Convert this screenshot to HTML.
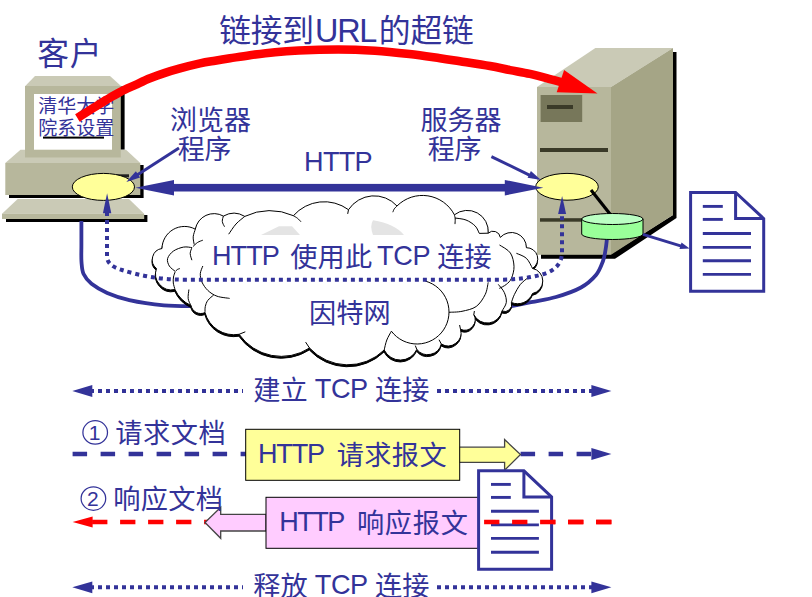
<!DOCTYPE html>
<html lang="zh"><head><meta charset="utf-8"><title>HTTP over TCP</title>
<style>
html,body{margin:0;padding:0;background:#fff;}
body{width:812px;height:597px;overflow:hidden;font-family:"Liberation Sans","Noto Sans CJK SC",sans-serif;}
svg{display:block;}
svg text{font-family:"Liberation Sans","Noto Sans CJK SC",sans-serif;}
</style></head><body>
<svg width="812" height="597" viewBox="0 0 812 597">
<rect x="120" y="86.5" width="4.6" height="63.2" fill="#000"/>
<polygon points="35,76 110,76 121.3,86.3 25,86.3" fill="#cacab6"/>
<polygon points="20.5,149.7 126,149.7 140.3,163 5.3,163" fill="#cacab6"/>
<rect x="25" y="86" width="95.8" height="71.5" fill="#b7b79c"/>
<rect x="34" y="94" width="78" height="55.7" fill="#fff"/>
<rect x="9" y="165" width="134.6" height="33" fill="#000"/>
<rect x="5.3" y="163" width="135" height="32" fill="#b7b79c"/>
<rect x="116" y="174.3" width="13" height="3" fill="#222"/>
<polygon points="6,222 147.4,222 147.4,215 144,215 144,219 6,219" fill="#000"/>
<polygon points="17.7,199 129,199 144.2,213.7 2,213.7" fill="#cacab6"/>
<rect x="2" y="213.7" width="142.2" height="5.3" fill="#b7b79c"/>
<text x="38.30" y="112.80" font-size="19" fill="#333399">清华大学</text>
<text x="38.30" y="135.30" font-size="19" fill="#333399">院系设置</text>
<rect x="43" y="136.6" width="61" height="2" fill="#000"/>
<polygon points="673,52 676.5,52 676.5,218 615,258.8 541,258.8 541,254 611,254 673,215" fill="#000"/>
<polygon points="595.4,48 673,48 611,87 537,87" fill="#cacab6"/>
<rect x="537" y="87" width="74" height="167.8" fill="#b7b79c"/>
<polygon points="611,87 673,48 673,215 611,254.8" fill="#a5a586"/>
<rect x="540.6" y="95" width="41.6" height="27" fill="#77775a"/>
<rect x="547" y="105" width="26" height="4" fill="#3a3a28"/>
<rect x="540" y="148" width="68" height="4" fill="#3a3a28"/>
<rect x="540" y="218.2" width="50" height="3.5" fill="#3a3a28"/>
<path d="M81.4,221.0 C81.4,225.0 81.4,238.2 81.4,245.0 C81.4,251.8 81.1,257.2 81.5,262.0 C81.9,266.8 81.9,270.4 83.6,274.0 C85.3,277.6 87.6,280.7 91.5,283.8 C95.4,286.9 100.9,290.2 107.2,292.9 C113.5,295.6 119.9,298.0 129.3,300.1 C138.8,302.2 153.0,304.3 163.9,305.3 C174.8,306.3 189.8,306.1 195.0,306.2" fill="none" stroke="#333399" stroke-width="3.8"/>
<path d="M607.0,238.0 C606.8,240.0 606.2,246.2 605.5,250.0 C604.8,253.8 604.6,256.8 603.0,261.0 C601.4,265.2 599.7,270.6 596.0,275.0 C592.3,279.4 587.7,283.8 581.0,287.5 C574.3,291.2 564.3,294.6 556.0,297.0 C547.7,299.4 540.3,300.3 531.0,302.2 C521.7,304.1 505.2,307.4 500.0,308.5" fill="none" stroke="#333399" stroke-width="3.8"/>
<path d="M156.5,268.5 A11.3,11.3 0 0 1 162,248.5 A22.5,22.5 0 0 1 195.3,229.2 A19,19 0 0 1 223.4,216.1 A21,21 0 0 1 244.8,216.4 A57,57 0 0 1 293.4,215.7 A41,41 0 0 1 348.5,209.7 A30.7,30.7 0 0 1 397,206 A36,36 0 0 1 454.4,214.8 A21,21 0 0 1 488.2,233.2 A7.2,7.2 0 0 1 500.3,237.4 A15,15 0 0 1 526.4,247.7 A11.2,11.2 0 0 1 532.5,268.4 A12.8,12.8 0 0 1 532.5,293.5 A16,16 0 0 1 511.4,302.5 A7,7 0 0 1 502,311 A15,15 0 0 1 473.8,314.6 A10.5,10.5 0 0 1 460.5,329.3 A13,13 0 0 1 441.3,344 A14,14 0 0 1 416.8,349.4 A18,18 0 0 1 384.2,350 A52,52 0 0 1 309.5,348 A51.5,51.5 0 0 1 239.1,334.3 A30,30 0 0 1 205,312.6 A10,10 0 0 1 191,305.5 A32,32 0 0 1 175,289.5 A16,16 0 0 1 156.5,268.5Z" transform="translate(-0.2,1.9)" fill="#000" stroke="#000" stroke-width="1.0" stroke-linejoin="round"/>
<path d="M156.5,268.5 A11.3,11.3 0 0 1 162,248.5 A22.5,22.5 0 0 1 195.3,229.2 A19,19 0 0 1 223.4,216.1 A21,21 0 0 1 244.8,216.4 A57,57 0 0 1 293.4,215.7 A41,41 0 0 1 348.5,209.7 A30.7,30.7 0 0 1 397,206 A36,36 0 0 1 454.4,214.8 A21,21 0 0 1 488.2,233.2 A7.2,7.2 0 0 1 500.3,237.4 A15,15 0 0 1 526.4,247.7 A11.2,11.2 0 0 1 532.5,268.4 A12.8,12.8 0 0 1 532.5,293.5 A16,16 0 0 1 511.4,302.5 A7,7 0 0 1 502,311 A15,15 0 0 1 473.8,314.6 A10.5,10.5 0 0 1 460.5,329.3 A13,13 0 0 1 441.3,344 A14,14 0 0 1 416.8,349.4 A18,18 0 0 1 384.2,350 A52,52 0 0 1 309.5,348 A51.5,51.5 0 0 1 239.1,334.3 A30,30 0 0 1 205,312.6 A10,10 0 0 1 191,305.5 A32,32 0 0 1 175,289.5 A16,16 0 0 1 156.5,268.5Z" fill="#fff" stroke="#000" stroke-width="1.0" stroke-linejoin="round"/>
<path d="M261,235 L279,226.3 H292 L300,235 Z" fill="#e4e4e4"/>
<path d="M373,235 Q369.5,226 373,220.3 Q395,224 404,235 Z" fill="#e4e4e4"/>
<path d="M195.3,229.2 C195.0,230.5 193.4,234.2 193.2,236.8 C193.0,239.4 194.0,243.2 194.2,244.5" fill="none" stroke="#000" stroke-width="1"/>
<path d="M193.0,246.5 C193.8,245.8 195.9,243.6 197.5,242.5 C199.1,241.4 201.9,240.6 202.8,240.2" fill="none" stroke="#000" stroke-width="1"/>
<path d="M191.9,247.6 C190.5,247.5 186.6,246.5 183.5,247.1 C180.4,247.7 176.2,249.1 173.5,251.0 C170.8,252.9 168.3,256.0 167.6,258.5 C166.9,261.0 168.1,263.9 169.3,266.0 C170.6,268.1 174.1,270.4 175.1,271.3" fill="none" stroke="#000" stroke-width="1"/>
<path d="M175.3,271.5 C175.6,271.2 176.6,270.0 177.3,269.5 C178.1,269.0 179.4,268.8 179.8,268.6" fill="none" stroke="#000" stroke-width="1"/>
<path d="M191.9,247.6 C191.6,248.6 190.2,251.4 190.2,253.5 C190.2,255.6 191.6,259.1 191.9,260.2" fill="none" stroke="#000" stroke-width="1"/>
<path d="M175.0,289.5 C174.7,288.4 173.6,285.1 173.3,283.0 C173.1,280.9 173.2,278.8 173.5,277.0 C173.8,275.2 174.8,272.8 175.1,272.0" fill="none" stroke="#000" stroke-width="1"/>
<path d="M202.8,266.0 C202.4,267.3 200.5,270.9 200.3,273.6 C200.2,276.3 200.7,279.2 201.9,282.0 C203.2,284.8 205.3,288.0 207.8,290.4 C210.3,292.8 213.4,294.9 217.0,296.2 C220.6,297.5 227.5,298.0 229.6,298.4" fill="none" stroke="#000" stroke-width="1"/>
<path d="M188.9,289.5 C188.8,291.0 187.8,296.0 188.2,298.7 C188.5,301.4 190.5,304.4 191.0,305.5" fill="none" stroke="#000" stroke-width="1"/>
<path d="M213.7,295.0 C212.7,295.9 209.2,298.5 207.8,300.4 C206.4,302.3 205.8,304.5 205.3,306.5 C204.8,308.5 205.1,311.6 205.0,312.6" fill="none" stroke="#000" stroke-width="1"/>
<path d="M223.4,216.1 C223.2,217.0 222.1,219.7 222.3,221.5 C222.5,223.3 224.1,225.8 224.5,226.7" fill="none" stroke="#000" stroke-width="1"/>
<path d="M244.8,216.4 C243.3,217.7 238.7,221.0 236.0,224.0 C233.3,227.0 229.9,232.5 228.7,234.2" fill="none" stroke="#000" stroke-width="1"/>
<path d="M293.4,215.7 C294.1,216.1 296.2,217.3 297.5,218.3 C298.8,219.3 300.4,221.2 301.0,221.8" fill="none" stroke="#000" stroke-width="1"/>
<path d="M348.5,209.7 L347.7,213.9" fill="none" stroke="#000" stroke-width="1"/>
<path d="M397.0,206.0 C396.6,206.5 395.0,207.8 394.3,208.8 C393.6,209.8 393.1,211.6 392.8,212.2" fill="none" stroke="#000" stroke-width="1"/>
<path d="M454.4,214.8 C454.5,215.5 455.1,217.4 455.2,219.0 C455.3,220.6 455.0,223.2 455.0,224.1" fill="none" stroke="#000" stroke-width="1"/>
<path d="M455.0,218.0 C456.8,218.3 462.6,218.7 466.0,220.0 C469.4,221.3 473.0,223.8 475.2,226.0 C477.4,228.2 478.5,232.0 479.2,233.2" fill="none" stroke="#000" stroke-width="1"/>
<path d="M479.2,233.4 L488.2,233.2" fill="none" stroke="#000" stroke-width="1"/>
<path d="M499.5,245.0 C501.3,246.3 508.0,249.4 510.4,253.0 C512.8,256.6 513.8,262.1 514.0,266.3 C514.2,270.5 512.7,275.4 511.4,278.4 C510.1,281.4 508.3,282.7 506.3,284.4 C504.3,286.1 500.5,287.7 499.3,288.4" fill="none" stroke="#000" stroke-width="1"/>
<path d="M516.4,253.3 C518.1,254.1 523.7,255.8 526.4,258.3 C529.1,260.8 531.5,266.7 532.5,268.4" fill="none" stroke="#000" stroke-width="1"/>
<path d="M528.4,277.4 C527.1,278.6 522.7,281.5 520.4,284.4 C518.1,287.2 515.9,291.5 514.4,294.5 C512.9,297.5 511.9,301.2 511.4,302.5" fill="none" stroke="#000" stroke-width="1"/>
<path d="M498.3,284.4 C499.3,285.8 503.0,289.5 504.3,292.5 C505.6,295.5 506.7,299.4 506.3,302.5 C505.9,305.6 502.7,309.6 502.0,311.0" fill="none" stroke="#000" stroke-width="1"/>
<path d="M488.2,282.4 C487.7,284.4 487.2,290.5 485.2,294.5 C483.2,298.5 480.1,303.7 476.2,306.5 C472.3,309.3 466.5,310.3 462.0,311.3 C457.5,312.3 451.2,312.1 449.0,312.3" fill="none" stroke="#000" stroke-width="1"/>
<path d="M473.8,314.6 L474.4,311" fill="none" stroke="#000" stroke-width="1"/>
<path d="M460.5,329.3 L459.6,325" fill="none" stroke="#000" stroke-width="1"/>
<path d="M441.3,344 L439,339.7" fill="none" stroke="#000" stroke-width="1"/>
<path d="M416.8,349.4 L415.3,345.6" fill="none" stroke="#000" stroke-width="1"/>
<path d="M384.2,350.0 C384.6,348.3 385.6,343.1 386.8,340.0 C388.0,336.9 390.6,332.7 391.4,331.2" fill="none" stroke="#000" stroke-width="1"/>
<path d="M239.1,334.3 L245.3,331.8" fill="none" stroke="#000" stroke-width="1"/>
<path d="M309.5,348 L305.6,342.1" fill="none" stroke="#000" stroke-width="1"/>
<path d="M425.3,281.1 A32,32 0 1 1 391.4,331.2" fill="none" stroke="#000" stroke-width="1"/>
<ellipse cx="103.4" cy="186.9" rx="31.1" ry="13.5" fill="#ffff99" stroke="#000" stroke-width="1"/>
<ellipse cx="567" cy="186.8" rx="31.3" ry="13.4" fill="#ffff99" stroke="#000" stroke-width="1"/>
<line x1="591" y1="190" x2="610" y2="214" stroke="#000" stroke-width="3.2"/>
<path d="M581.7,219 V234 A30.65,5.5 0 0 0 643,234 V219 Z" fill="#99ff99" stroke="#000" stroke-width="1"/>
<ellipse cx="612.35" cy="219" rx="30.65" ry="5.5" fill="#bbffc3" stroke="#000" stroke-width="1"/>
<rect x="170" y="183.9" width="338" height="7.6" fill="#333399"/>
<polygon points="135.4,187.7 174.0,179.9 174.0,195.5" fill="#333399"/>
<polygon points="543.4,187.7 504.8,195.5 504.8,179.9" fill="#333399"/>
<line x1="179" y1="148" x2="134" y2="177" stroke="#333399" stroke-width="3"/>
<polygon points="126.3,182.0 135.9,171.2 140.1,177.5" fill="#333399"/>
<line x1="491.4" y1="156.6" x2="533" y2="176.8" stroke="#333399" stroke-width="3"/>
<polygon points="541.0,180.0 527.6,177.8 530.9,171.0" fill="#333399"/>
<line x1="643" y1="234.3" x2="683" y2="246.6" stroke="#333399" stroke-width="2.8"/>
<polygon points="689.6,248.6 679.5,248.9 681.5,242.6" fill="#333399"/>
<path d="M107,212 V256 C107,263 112,267 122,270 C135,274 155,279.7 185,279.7 H500 C515,279.7 528,278 540,275 C552,272 562,266 562,252 V210" fill="none" stroke="#333399" stroke-width="4" stroke-dasharray="4 4"/>
<polygon points="107.1,193.3 111.3,213.3 102.9,213.3" fill="#333399"/>
<polygon points="562.1,196.0 566.1,214.0 558.1,214.0" fill="#333399"/>
<path d="M690.6,192.5 H735.6 L763.7,218.6 V291.2 H690.6 Z" fill="#fff" stroke="#333399" stroke-width="3" stroke-linejoin="miter"/><path d="M735.6,192.5 V218.6 H763.7" fill="none" stroke="#333399" stroke-width="3"/><line x1="702.8" y1="206.4" x2="722.8" y2="206.4" stroke="#333399" stroke-width="2.9"/><line x1="702.8" y1="219.4" x2="722.8" y2="219.4" stroke="#333399" stroke-width="2.9"/><line x1="702.8" y1="233.5" x2="751" y2="233.5" stroke="#333399" stroke-width="2.9"/><line x1="702.8" y1="247.4" x2="751" y2="247.4" stroke="#333399" stroke-width="2.9"/><line x1="702.8" y1="260.7" x2="751" y2="260.7" stroke="#333399" stroke-width="2.9"/><line x1="702.8" y1="274.4" x2="751" y2="274.4" stroke="#333399" stroke-width="2.9"/>
<text x="219.34" y="42.40" font-size="31.8" fill="#333399" letter-spacing="-0.3">链接到</text>
<text x="315.10" y="41.50" font-size="32.4" fill="#333399" letter-spacing="-1.320" xml:space="preserve">URL</text>
<text x="378.83" y="42.40" font-size="31.8" fill="#333399" letter-spacing="-0.2">的超链</text>
<text x="37.29" y="64.50" font-size="31.8" fill="#333399" letter-spacing="0.7">客户</text>
<text x="170.07" y="130.00" font-size="27" fill="#333399">浏览器</text>
<text x="177.64" y="159.10" font-size="27" fill="#333399">程序</text>
<text x="420.48" y="130.00" font-size="27" fill="#333399">服务器</text>
<text x="427.64" y="159.10" font-size="27" fill="#333399">程序</text>
<text x="304.08" y="171.40" font-size="27.1" fill="#333399" letter-spacing="-0.767" xml:space="preserve">HTTP</text>
<text x="212.08" y="265.20" font-size="27.1" fill="#333399" letter-spacing="-1.034" xml:space="preserve">HTTP</text>
<text x="290.13" y="267.00" font-size="27.2" fill="#333399" letter-spacing="0.3">使用此</text>
<text x="376.89" y="265.20" font-size="27.1" fill="#333399" letter-spacing="-0.231" xml:space="preserve">TCP</text>
<text x="437.18" y="267.00" font-size="27.2" fill="#333399" letter-spacing="0.2">连接</text>
<text x="308.97" y="322.50" font-size="27.2" fill="#333399" letter-spacing="0.1">因特网</text>
<path d="M77.4,118.0 C80.3,116.2 89.7,110.3 94.6,107.2 C99.5,104.1 102.8,102.0 107.0,99.5 C111.2,97.0 115.3,94.5 120.0,92.1 C124.7,89.7 130.0,87.4 135.0,85.1 C140.0,82.8 145.0,80.3 150.0,78.3 C155.0,76.2 160.0,74.4 165.0,72.8 C170.0,71.2 174.2,70.0 180.0,68.4 C185.8,66.8 194.2,64.7 200.0,63.4 C205.8,62.1 210.0,61.6 215.0,60.8 C220.0,59.9 224.2,59.2 230.0,58.3 C235.8,57.4 242.5,56.2 250.0,55.2 C257.5,54.2 266.9,53.0 275.0,52.2 C283.1,51.4 288.3,51.0 298.8,50.5 C309.3,50.0 325.5,49.5 338.2,49.5 C350.9,49.5 363.1,50.0 375.0,50.7 C386.9,51.5 398.6,52.8 409.4,54.0 C420.2,55.2 431.6,57.0 440.0,58.2 C448.4,59.4 451.7,60.0 460.0,61.3 C468.3,62.6 481.7,64.6 490.0,66.1 C498.3,67.6 503.3,68.8 510.0,70.1 C516.7,71.4 523.3,72.4 530.0,73.9 C536.7,75.4 544.5,77.6 550.0,79.1 C555.5,80.5 560.8,82.0 563.0,82.6" fill="none" stroke="#ff0000" stroke-width="8.6"/>
<polygon points="597.5,93.6 564.1,70 556.7,92.3" fill="#ff0000"/>
<line x1="92" y1="391" x2="243" y2="391" stroke="#333399" stroke-width="4" stroke-dasharray="4 4" stroke-dashoffset="2"/><polygon points="72.3,391.0 92.3,385.1 92.3,396.9" fill="#333399"/><line x1="437" y1="391" x2="592" y2="391" stroke="#333399" stroke-width="4" stroke-dasharray="4 4"/><polygon points="611.4,391.0 591.4,396.9 591.4,385.1" fill="#333399"/>
<line x1="92" y1="587.3" x2="243" y2="587.3" stroke="#333399" stroke-width="4" stroke-dasharray="4 4" stroke-dashoffset="2"/><polygon points="72.3,587.3 92.3,581.4 92.3,593.2" fill="#333399"/><line x1="437" y1="587.3" x2="592" y2="587.3" stroke="#333399" stroke-width="4" stroke-dasharray="4 4"/><polygon points="611.4,587.3 591.4,593.2 591.4,581.4" fill="#333399"/>
<text x="253.19" y="399.50" font-size="27.2" fill="#333399">建立</text>
<text x="314.79" y="397.50" font-size="27.1" fill="#333399" letter-spacing="-0.431" xml:space="preserve">TCP</text>
<text x="374.98" y="399.50" font-size="27.2" fill="#333399" letter-spacing="0.2">连接</text>
<text x="253.33" y="595.80" font-size="27.2" fill="#333399">释放</text>
<text x="314.79" y="593.80" font-size="27.1" fill="#333399" letter-spacing="-0.431" xml:space="preserve">TCP</text>
<text x="374.98" y="595.80" font-size="27.2" fill="#333399" letter-spacing="0.2">连接</text>
<line x1="72.6" y1="454" x2="595" y2="454" stroke="#333399" stroke-width="4.3" stroke-dasharray="14.5 13.5"/>
<polygon points="611.4,454.0 591.4,459.9 591.4,448.1" fill="#333399"/>
<polygon points="459,447.2 504.6,447.2 504.6,439.6 520.5,454.5 504.6,470.3 504.6,462.3 459,462.3" fill="#ffff99" stroke="#444" stroke-width="1.3"/>
<rect x="245.7" y="429.3" width="214" height="51" fill="#ffff99" stroke="#000" stroke-width="1"/>
<text x="257.98" y="463.20" font-size="27.1" fill="#333399" letter-spacing="-1.201" xml:space="preserve">HTTP</text>
<text x="336.66" y="465.00" font-size="27.2" fill="#333399" letter-spacing="0.4">请求报文</text>
<ellipse cx="95.2" cy="432.4" rx="12.3" ry="11.7" fill="none" stroke="#333399" stroke-width="1.25"/><text x="94.7" y="439.79999999999995" font-size="21" text-anchor="middle" fill="#333399">1</text>
<text x="115.26" y="443.00" font-size="27.2" fill="#333399" letter-spacing="0.6">请求文档</text>
<line x1="611.4" y1="522" x2="90" y2="522" stroke="#ff0000" stroke-width="4.3" stroke-dasharray="15.3 12.7"/>
<polygon points="72.6,522.0 92.6,516.6 92.6,527.4" fill="#ff0000"/>
<polygon points="266,514.3 220.7,514.3 220.7,507.3 205,522.5 220.7,538.3 220.7,531 266,531" fill="#ffccff" stroke="#444" stroke-width="1.3"/>
<rect x="266" y="497.3" width="213" height="51" fill="#ffccff" stroke="#000" stroke-width="1"/>
<text x="279.18" y="531.20" font-size="27.1" fill="#333399" letter-spacing="-1.501" xml:space="preserve">HTTP</text>
<text x="356.99" y="533.00" font-size="27.2" fill="#333399" letter-spacing="0.7">响应报文</text>
<ellipse cx="93.4" cy="498.6" rx="12.3" ry="11.7" fill="none" stroke="#333399" stroke-width="1.25"/><text x="92.9" y="506.0" font-size="21" text-anchor="middle" fill="#333399">2</text>
<text x="113.19" y="509.30" font-size="27.2" fill="#333399" letter-spacing="0.3">响应文档</text>
<path d="M478.6,470.8 H523.9 L551.6,496.9 V569.2 H478.6 Z" fill="#fff" stroke="#333399" stroke-width="3" stroke-linejoin="miter"/><path d="M523.9,470.8 V496.9 H551.6" fill="none" stroke="#333399" stroke-width="3"/><line x1="491" y1="484.4" x2="510.8" y2="484.4" stroke="#333399" stroke-width="2.9"/><line x1="491" y1="497.4" x2="510.8" y2="497.4" stroke="#333399" stroke-width="2.9"/><line x1="491" y1="511.3" x2="538.9" y2="511.3" stroke="#333399" stroke-width="2.9"/><line x1="491" y1="524.9" x2="538.9" y2="524.9" stroke="#333399" stroke-width="2.9"/><line x1="491" y1="538.4" x2="538.9" y2="538.4" stroke="#333399" stroke-width="2.9"/><line x1="491" y1="552.3" x2="538.9" y2="552.3" stroke="#333399" stroke-width="2.9"/>
<line x1="611.4" y1="522" x2="484" y2="522" stroke="#ff0000" stroke-width="4.3" stroke-dasharray="15.3 12.7"/>
</svg>
</body></html>
